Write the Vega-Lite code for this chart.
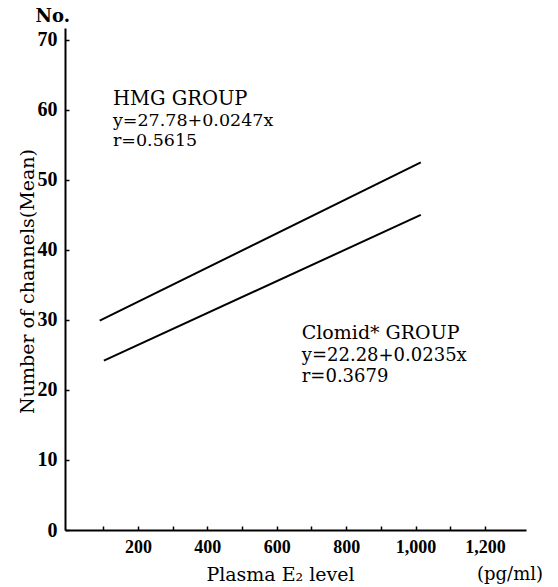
{
  "$schema": "https://vega.github.io/schema/vega-lite/v6.json",
  "width": 461,
  "height": 502,
  "autosize": "none",
  "padding": {"left": 65, "top": 28, "right": 32, "bottom": 57},
  "background": "white",
  "config": {
    "view": {"stroke": null},
    "font": "DejaVu Serif",
    "axis": {"grid": false, "domainColor": "black", "domainWidth": 2, "tickColor": "black", "labelColor": "black", "titleColor": "black", "labelFont": "Liberation Serif", "titleFont": "DejaVu Serif", "labelFontWeight": "bold", "titleFontWeight": "normal"}
  },
  "datasets": {
    "lines": [
      {"group": "HMG", "x": 90, "y": 29.9},
      {"group": "HMG", "x": 1015, "y": 52.5},
      {"group": "Clomid", "x": 102, "y": 24.2},
      {"group": "Clomid", "x": 1015, "y": 45.0}
    ],
    "notes": [
      {"text": "HMG GROUP", "x": 128, "y": 60.7, "size": 19.5},
      {"text": "y=27.78+0.0247x", "x": 128, "y": 57.7, "size": 17.5},
      {"text": "r=0.5615", "x": 128, "y": 54.8, "size": 17.5},
      {"text": "Clomid* GROUP", "x": 672, "y": 27.3, "size": 19},
      {"text": "y=22.28+0.0235x", "x": 672, "y": 24.2, "size": 18},
      {"text": "r=0.3679", "x": 672, "y": 21.2, "size": 18}
    ]
  },
  "layer": [
    {
      "data": {"name": "lines"},
      "mark": {"type": "line", "color": "black", "strokeWidth": 2},
      "encoding": {
        "x": {"field": "x", "type": "quantitative", "scale": {"domain": [-10, 1318], "nice": false, "zero": false},
          "axis": {"title": "Plasma E₂ level", "titleFontSize": 19, "titleX": 215, "titleY": 50, "titleAnchor": "middle", "titleAlign": "center", "titleBaseline": "alphabetic",
            "values": [100,200,300,400,500,600,700,800,900,1000,1100,1200], "tickSize": -4, "tickWidth": 1.5, "labelPadding": 12, "labelFontSize": 18,
            "labelExpr": "datum.value % 200 == 0 ? format(datum.value, ',') : ''"}},
        "y": {"field": "y", "type": "quantitative", "scale": {"domain": [0, 71.7], "nice": false},
          "axis": {"title": "Number of channels(Mean)", "titleFontSize": 19, "titleX": -32, "titleY": 253, "titleAnchor": "middle", "titleBaseline": "alphabetic", "titleAlign": "center",
            "values": [0,10,20,30,40,50,60,70], "tickSize": -4, "tickWidth": 1.5, "labelPadding": 12, "labelFontSize": 20}},
        "detail": {"field": "group"}
      }
    },
    {
      "data": {"name": "notes"},
      "mark": {"type": "text", "align": "left", "baseline": "alphabetic", "color": "black", "font": "DejaVu Serif"},
      "encoding": {
        "x": {"field": "x", "type": "quantitative"},
        "y": {"field": "y", "type": "quantitative"},
        "text": {"field": "text"},
        "size": {"field": "size", "type": "quantitative", "scale": null, "legend": null}
      }
    },
    {
      "data": {"values": [{"t": "No."}]},
      "mark": {"type": "text", "align": "right", "baseline": "alphabetic", "fontSize": 18, "fontWeight": "bold", "font": "DejaVu Serif", "dx": 5, "dy": -6, "color": "black"},
      "encoding": {"x": {"datum": -10, "type": "quantitative"}, "y": {"datum": 71.7, "type": "quantitative"}, "text": {"field": "t"}}
    },
    {
      "data": {"values": [{"t": "(pg/ml)"}]},
      "mark": {"type": "text", "align": "right", "baseline": "alphabetic", "fontSize": 18, "font": "DejaVu Serif", "dx": 17, "dy": 50, "color": "black"},
      "encoding": {"x": {"datum": 1318, "type": "quantitative"}, "y": {"datum": 0, "type": "quantitative"}, "text": {"field": "t"}}
    }
  ]
}
